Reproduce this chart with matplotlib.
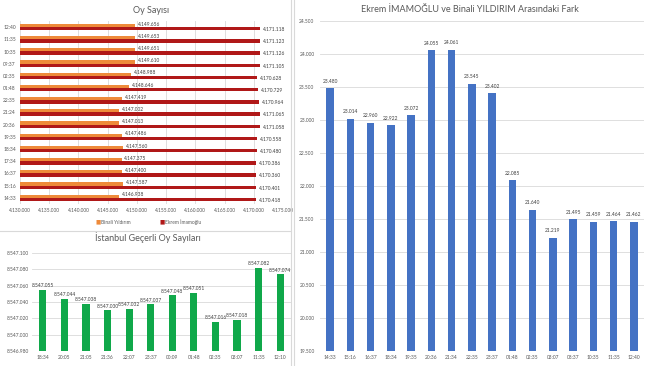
import numpy as np
import matplotlib
matplotlib.use("Agg")
import matplotlib.pyplot as plt
from matplotlib.lines import Line2D
from matplotlib.ticker import FuncFormatter

plt.rcParams['font.family'] = ['Lato', 'DejaVu Sans']

# --- data: Oy Sayisi (top-left), listed bottom to top
saat_oy = ["14:33", "15:16", "16:37", "17:34", "18:34", "19:35", "20:36", "21:24",
           "22:35", "01:48", "02:35", "09:37", "10:35", "11:35", "12:40"]
binali = [4146938, 4147587, 4147400, 4147375, 4147560, 4147486, 4147013, 4147002,
          4147419, 4148646, 4148988, 4149610, 4149651, 4149653, 4149656]
ekrem = [4170418, 4170401, 4170360, 4170386, 4170480, 4170558, 4171058, 4171065,
         4170964, 4170729, 4170628, 4171105, 4171126, 4171123, 4171118]

# --- data: Istanbul gecerli oy (bottom-left)
saat_gecerli = ["18:34", "20:05", "21:05", "21:36", "22:07", "23:37", "00:09", "01:48",
                "02:35", "03:07", "11:35", "12:10"]
gecerli = [8547055, 8547044, 8547038, 8547030, 8547032, 8547037, 8547048, 8547051,
           8547016, 8547018, 8547082, 8547074]

# --- data: fark (right)
saat_fark = ["14:33", "15:16", "16:37", "18:34", "19:35", "20:36", "21:34", "22:35",
             "23:37", "01:48", "02:35", "03:07", "08:37", "10:35", "11:35", "12:40"]
fark = [23480, 23014, 22960, 22922, 23072, 24055, 24061, 23545, 23402, 22085,
        21640, 21219, 21495, 21459, 21464, 21462]

W, H = 648, 366
gray_txt = "#595959"
grid_c = "#D9D9D9"


def dots(v):
    return f"{int(round(v)):,}".replace(",", ".")


def px_axes(fig, l, t, r, b):
    return fig.add_axes([l / W, 1 - b / H, (r - l) / W, (b - t) / H])


def clean(ax):
    for s in ax.spines.values():
        s.set_visible(False)
    ax.tick_params(length=0, labelsize=3.5, colors=gray_txt)


fig = plt.figure(figsize=(W / 100, H / 100), dpi=100)
fig.patch.set_facecolor("white")

# panel separators
fig.add_artist(Line2D([291 / W, 291 / W], [0, 1], color=grid_c, lw=0.8))
fig.add_artist(Line2D([0, 291 / W], [1 - 231 / H, 1 - 231 / H], color=grid_c, lw=0.8))
fig.add_artist(Line2D([294 / W, 294 / W], [0, 1], color=grid_c, lw=0.8))

# ---------------- top-left: horizontal bars
ax1 = px_axes(fig, 20, 21, 283, 204)
clean(ax1)
y = np.arange(len(saat_oy))
h = 0.27
ax1.barh(y + h / 2, binali, height=h, color="#EE8A3A", zorder=2)
ax1.barh(y - h / 2, ekrem, height=h, color="#B01818", zorder=2)
ax1.set_xlim(4130000, 4175000)
ax1.set_ylim(-0.5, len(saat_oy) - 0.5)
ax1.set_xticks(np.arange(4130000, 4175001, 5000))
ax1.xaxis.set_major_formatter(FuncFormatter(lambda v, p: dots(v)))
ax1.set_yticks(y)
ax1.set_yticklabels(saat_oy)
ax1.tick_params(axis="y", pad=3)
ax1.tick_params(axis="x", pad=3)
ax1.grid(axis="x", color=grid_c, lw=0.6, zorder=0)
for i in range(len(y)):
    ax1.text(binali[i] + 500, y[i] + h * 0.9, dots(binali[i]), fontsize=3.5,
             color="#404040", va="center", ha="left", zorder=3)
    ax1.text(ekrem[i] + 500, y[i] - h * 0.7, dots(ekrem[i]), fontsize=3.5,
             color="#404040", va="center", ha="left", zorder=3)
ax1.set_title("Oy Sayısı", fontsize=6.5, color=gray_txt, pad=6)
fig.text(96 / W, 1 - 222 / H, "■", color="#EE8A3A", fontsize=4, va="center")
fig.text(101 / W, 1 - 222 / H, "Binali Yıldırım", color=gray_txt, fontsize=3.5, va="center")
fig.text(160 / W, 1 - 222 / H, "■", color="#B01818", fontsize=4, va="center")
fig.text(165 / W, 1 - 222 / H, "Ekrem İmamoğlu", color=gray_txt, fontsize=3.5, va="center")

# ---------------- bottom-left: green bars
ax2 = px_axes(fig, 32, 253, 291, 351)
clean(ax2)
x2 = np.arange(len(saat_gecerli))
ax2.bar(x2, gecerli, width=0.33, color="#10A84A", zorder=2)
ax2.set_ylim(8546980, 8547100)
ax2.set_yticks(np.arange(8546980, 8547101, 20))
ax2.yaxis.set_major_formatter(FuncFormatter(lambda v, p: dots(v)))
ax2.set_xlim(-0.5, len(x2) - 0.5)
ax2.set_xticks(x2)
ax2.set_xticklabels(saat_gecerli)
ax2.tick_params(axis="y", pad=2)
ax2.tick_params(axis="x", pad=3)
ax2.grid(axis="y", color=grid_c, lw=0.6, zorder=0)
for i in range(len(x2)):
    ax2.text(x2[i], gecerli[i] + 2, dots(gecerli[i]), fontsize=3.5, color="#404040",
             ha="center", va="bottom", zorder=3)
fig.text(148 / W, 1 - 238 / H, "İstanbul Geçerli Oy Sayıları", fontsize=6.5,
         color=gray_txt, ha="center", va="center")

# ---------------- right: blue bars
ax3 = px_axes(fig, 320, 21, 644, 351)
clean(ax3)
x3 = np.arange(len(saat_fark))
ax3.bar(x3, fark, width=0.36, color="#4472C4", zorder=2)
ax3.set_ylim(19500, 24500)
ax3.set_yticks(np.arange(19500, 24501, 500))
ax3.yaxis.set_major_formatter(FuncFormatter(lambda v, p: dots(v)))
ax3.set_xlim(-0.5, len(x3) - 0.5)
ax3.set_xticks(x3)
ax3.set_xticklabels(saat_fark)
ax3.tick_params(axis="y", pad=4)
ax3.tick_params(axis="x", pad=3)
ax3.grid(axis="y", color=grid_c, lw=0.6, zorder=0)
for i in range(len(x3)):
    ax3.text(x3[i], fark[i] + 70, dots(fark[i]), fontsize=3.5, color="#404040",
             ha="center", va="bottom", zorder=3)
fig.text(470 / W, 1 - 9 / H, "Ekrem İMAMOĞLU ve Binali YILDIRIM Arasındaki Fark",
         fontsize=6.5, color=gray_txt, ha="center", va="center")

fig.savefig("out.png", dpi=100, facecolor="white")
